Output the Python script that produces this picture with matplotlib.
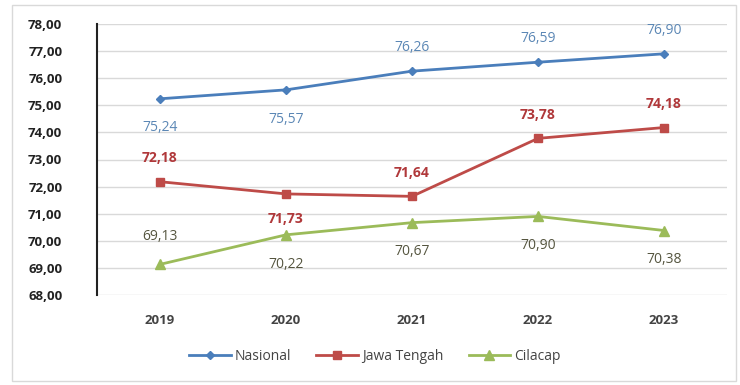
import matplotlib
matplotlib.use("Agg")
import matplotlib.pyplot as plt
from matplotlib.patches import Rectangle

years = ["2019", "2020", "2021", "2022", "2023"]
nasional = [75.24, 75.57, 76.26, 76.59, 76.90]
jawa_tengah = [72.18, 71.73, 71.64, 73.78, 74.18]
cilacap = [69.13, 70.22, 70.67, 70.90, 70.38]
y_ticks = [68, 69, 70, 71, 72, 73, 74, 75, 76, 77, 78]

# label placement per point: +1 above, -1 below
nas_pos = [-1, -1, 1, 1, 1]
jt_pos = [1, -1, 1, 1, 1]
cil_pos = [1, -1, -1, -1, -1]

plt.rcParams['font.family'] = ['Open Sans', 'DejaVu Sans']

fig = plt.figure(figsize=(7.4, 3.85), dpi=100)
ax = fig.add_axes([97 / 740, 1 - 295 / 385, (727 - 97) / 740, (295 - 24) / 385])

fig.patches.append(Rectangle((12 / 740, 4 / 385), 724 / 740, 376 / 385,
                             transform=fig.transFigure, fill=False,
                             edgecolor="#d9d9d9", linewidth=1.0))

x = list(range(len(years)))
c_nas, c_jt, c_cil = "#4a7ebb", "#be4b48", "#9bbb59"

ax.plot(x, nasional, color=c_nas, lw=2.0, marker="D", ms=4, label="Nasional")
ax.plot(x, jawa_tengah, color=c_jt, lw=2.0, marker="s", ms=6, label="Jawa Tengah")
ax.plot(x, cilacap, color=c_cil, lw=2.0, marker="^", ms=7, label="Cilacap")

def fmt(v):
    return f"{v:.2f}".replace(".", ",")

def annotate(vals, pos, color, bold, up, down):
    for xi, v, p in zip(x, vals, pos):
        ax.annotate(fmt(v), (xi, v), xytext=(0, up if p > 0 else -down),
                    textcoords="offset points", ha="center", va="center",
                    color=color, fontsize=10, fontweight="bold" if bold else "normal")

annotate(nasional, nas_pos, "#5b87b5", False, 17, 21)
annotate(jawa_tengah, jt_pos, "#b0383a", True, 17, 18)
annotate(cilacap, cil_pos, "#55553f", False, 20, 21)

ax.set_xlim(-0.5, 4.5)
ax.set_ylim(68, 78)
ax.set_yticks(y_ticks)
ax.set_yticklabels([fmt(t) for t in y_ticks], fontweight="bold", fontsize=9.5, color="#222222")
ax.set_xticks(x)
ax.set_xticklabels(years, fontweight="bold", fontsize=9.5, color="#444444")
ax.tick_params(axis="both", length=0)
ax.tick_params(axis="y", pad=25)
ax.tick_params(axis="x", pad=14)
ax.grid(axis="y", color="#d9d9d9", lw=1)
ax.set_axisbelow(True)
for s in ["top", "right", "bottom"]:
    ax.spines[s].set_visible(False)
ax.spines["left"].set_color("#222222")
ax.spines["left"].set_linewidth(1.5)

fig.legend(loc="center", bbox_to_anchor=(375 / 740, 1 - 356 / 385), ncol=3,
           frameon=False, fontsize=10, handlelength=3, columnspacing=1.8,
           handletextpad=0.3, labelcolor="#444444")

fig.savefig("out.png", dpi=100)
